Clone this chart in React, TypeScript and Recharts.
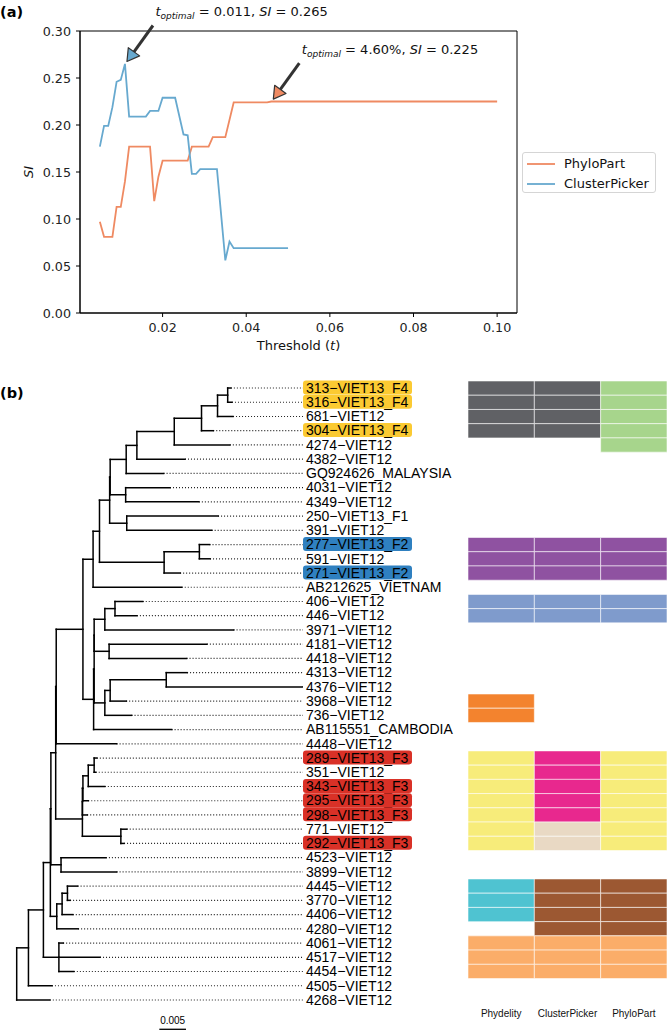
import React from "react"
import {
  ComposedChart,
  LineChart,
  Line,
  Scatter,
  XAxis,
  YAxis,
  Legend,
  ReferenceArea,
  ReferenceDot,
  ReferenceLine,
} from "recharts"

const FONT_A = "'DejaVu Sans', sans-serif"
const FONT_B = "'Liberation Sans', Arial, sans-serif"
const ORANGE = "#ef8a62"
const BLUE = "#67a9cf"

// (a) silhouette index against threshold (polyline vertices)
const phyloT = [0.005, 0.006, 0.008, 0.009, 0.01, 0.011, 0.012, 0.017, 0.018, 0.019, 0.02, 0.026, 0.027, 0.031, 0.032, 0.035, 0.037, 0.045, 0.046, 0.1]
const phyloSI = [0.097, 0.081, 0.081, 0.113, 0.113, 0.14, 0.177, 0.177, 0.119, 0.145, 0.162, 0.162, 0.177, 0.177, 0.187, 0.187, 0.224, 0.224, 0.225, 0.225]
const clusterT = [0.005, 0.006, 0.007, 0.008, 0.009, 0.01, 0.011, 0.012, 0.016, 0.017, 0.019, 0.02, 0.023, 0.025, 0.026, 0.027, 0.028, 0.029, 0.033, 0.035, 0.036, 0.037, 0.05]
const clusterSI = [0.177, 0.199, 0.199, 0.219, 0.246, 0.248, 0.265, 0.209, 0.209, 0.215, 0.215, 0.229, 0.229, 0.19, 0.189, 0.148, 0.148, 0.153, 0.153, 0.056, 0.076, 0.069, 0.069]
const xTicks = [0.02, 0.04, 0.06, 0.08, 0.1]
const yTicks = [0, 0.05, 0.1, 0.15, 0.2, 0.25, 0.3]
const seriesNames = ["PhyloPart", "ClusterPicker"]
const optimumT = [0.011, 0.046]
const optimumSI = [0.265, 0.225]
const optimumLabel = ["0.011", "4.60%"]
const optimumColor = [BLUE, ORANGE]

// (b) tree tips, top to bottom
const tipLabels = [
  "313−VIET13_F4", "316−VIET13_F4", "681−VIET12", "304−VIET13_F4", "4274−VIET12", "4382−VIET12",
  "GQ924626_MALAYSIA", "4031−VIET12", "4349−VIET12", "250−VIET13_F1", "391−VIET12", "277−VIET13_F2",
  "591−VIET12", "271−VIET13_F2", "AB212625_VIETNAM", "406−VIET12", "446−VIET12", "3971−VIET12",
  "4181−VIET12", "4418−VIET12", "4313−VIET12", "4376−VIET12", "3968−VIET12", "736−VIET12",
  "AB115551_CAMBODIA", "4448−VIET12", "289−VIET13_F3", "351−VIET12", "343−VIET13_F3", "295−VIET13_F3",
  "298−VIET13_F3", "771−VIET12", "292−VIET13_F3", "4523−VIET12", "3899−VIET12", "4445−VIET12",
  "3770−VIET12", "4406−VIET12", "4280−VIET12", "4061−VIET12", "4517−VIET12", "4454−VIET12",
  "4505−VIET12", "4268−VIET12",
]
// distance from root (subst./site) at the end of each tip branch
const tipDepth = [
  0.0401, 0.0403, 0.0405, 0.0368, 0.0399, 0.0315, 0.0275, 0.0287, 0.0341, 0.0377, 0.0365, 0.0361,
  0.0362, 0.0306, 0.0309, 0.0236, 0.0225, 0.0406, 0.0356, 0.0318, 0.0319, 0.0534, 0.0205, 0.0215,
  0.029, 0.0187, 0.015, 0.0148, 0.0165, 0.0134, 0.0132, 0.0206, 0.0201, 0.0167, 0.0187, 0.0114,
  0.01, 0.0105, 0.0115, 0.0087, 0.0156, 0.0107, 0.0066, 0.0062,
]
// internal nodes: [id, depth, children] (numbers are tip rows)
const treeNodes: [string, number, (number | string)[]][] = [
  ["n1", 0.0395, [1, 2]],
  ["n2", 0.0376, ["n1", 3]],
  ["n3", 0.0346, ["n2", 4]],
  ["n4", 0.0295, ["n3", 5]],
  ["n5", 0.0225, ["n4", 6]],
  ["n6", 0.0205, ["n5", 7]],
  ["n7", 0.0204, [8, 9]],
  ["n8", 0.0175, ["n6", "n7"]],
  ["n9", 0.0206, [10, 11]],
  ["n10", 0.0174, ["n8", "n9"]],
  ["n11", 0.0342, [12, 13]],
  ["n12", 0.0276, ["n11", 14]],
  ["n13", 0.0155, ["n10", "n12"]],
  ["n14", 0.0143, ["n13", 15]],
  ["n15", 0.0184, [16, 17]],
  ["n16", 0.0165, ["n15", 18]],
  ["n17", 0.0173, [19, 20]],
  ["n18", 0.0145, ["n16", "n17"]],
  ["n19", 0.028, [21, 22]],
  ["n20", 0.0175, ["n19", 23]],
  ["n21", 0.0165, ["n20", 24]],
  ["n22", 0.0145, ["n18", "n21"]],
  ["n23", 0.0144, ["n22", 25]],
  ["n24", 0.0124, ["n14", "n23"]],
  ["n25", 0.0074, ["n24", 26]],
  ["n26", 0.0145, [27, 28]],
  ["n27", 0.0134, ["n26", 29]],
  ["n28", 0.0124, ["n27", 30]],
  ["n29", 0.0123, ["n28", 31]],
  ["n30", 0.0195, [32, 33]],
  ["n31", 0.0123, ["n29", "n30"]],
  ["n32", 0.0073, ["n25", "n31"]],
  ["n33", 0.0083, [34, 35]],
  ["n34", 0.0095, [36, 37]],
  ["n35", 0.0085, ["n34", 38]],
  ["n36", 0.0075, ["n35", 39]],
  ["n37", 0.0064, ["n32", "n33"]],
  ["n38", 0.0063, ["n37", "n36"]],
  ["n39", 0.0079, [40, 41, 42]],
  ["n40", 0.005, ["n38", "n39"]],
  ["n41", 0.0022, ["n40", 43]],
  ["root", 0, ["n41", 44]],
]
const highlightF4 = [1, 2, 4]
const highlightF2 = [12, 14]
const highlightF3 = [27, 29, 30, 31, 33]
const scaleBarLength = 0.005
const scaleBarStart = 0.0267

// cluster membership per method: [first row, last row, cluster]
const methods = ["Phydelity", "ClusterPicker", "PhyloPart"]
const phydelityClusters: [number, number, string][] = [[1, 4, "grey"], [12, 14, "purple"], [16, 17, "lavender"], [23, 24, "orange"], [27, 33, "yellow"], [36, 38, "cyan"], [40, 42, "peach"]]
const clusterPickerClusters: [number, number, string][] = [[1, 4, "grey"], [12, 14, "purple"], [16, 17, "lavender"], [27, 31, "pink"], [32, 33, "beige"], [36, 39, "brown"], [40, 42, "peach"]]
const phyloPartClusters: [number, number, string][] = [[1, 5, "green"], [12, 14, "purple"], [16, 17, "lavender"], [27, 33, "yellow"], [36, 39, "brown"], [40, 42, "peach"]]

const clusterColors: Record<string, string> = {
  grey: "#606165",
  green: "#a7d58c",
  purple: "#8f52a1",
  lavender: "#7f9bcc",
  orange: "#f3832e",
  yellow: "#f7ec7a",
  pink: "#e8288e",
  beige: "#e9d9c4",
  cyan: "#4fc3d1",
  brown: "#9c5832",
  peach: "#fbad69",
}

const phyloData = phyloT.map((t, i) => ({ t, si: phyloSI[i] }))
const clusterData = clusterT.map((t, i) => ({ t, si: clusterSI[i] }))

const TREE_MAX = 0.0536
const tipRows = tipLabels.map((_, i) => i + 1)
const tipPoints = tipRows.map((r) => ({ x: tipDepth[r - 1], y: r }))

type Key = number | string
const depthOf = new Map<Key, number>()
const rowOf = new Map<Key, number>()
tipDepth.forEach((d, i) => {
  depthOf.set(i + 1, d)
  rowOf.set(i + 1, i + 1)
})
treeNodes.forEach(([id, d, kids]) => {
  depthOf.set(id, d)
  rowOf.set(id, (rowOf.get(kids[0])! + rowOf.get(kids[kids.length - 1])!) / 2)
})
const branches: { x: number; y: number }[][] = []
treeNodes.forEach(([, d, kids]) => {
  branches.push([
    { x: d, y: rowOf.get(kids[0])! },
    { x: d, y: rowOf.get(kids[kids.length - 1])! },
  ])
  kids.forEach((k) => {
    branches.push([
      { x: d, y: rowOf.get(k)! },
      { x: depthOf.get(k)!, y: rowOf.get(k)! },
    ])
  })
})

const cells: { col: number; row: number; color: string }[] = []
;[phydelityClusters, clusterPickerClusters, phyloPartClusters].forEach((runs, col) => {
  runs.forEach(([a, b, c]) => {
    for (let r = a; r <= b; r++) cells.push({ col, row: r, color: clusterColors[c] })
  })
})
const cellPoints = cells.map((c) => ({ x: c.col + 0.5, y: c.row }))

function highlightFill(row: number) {
  if (highlightF4.includes(row)) return "#fbca32"
  if (highlightF2.includes(row)) return "#2f80c0"
  if (highlightF3.includes(row)) return "#d93127"
  return null
}

function Callout(props: any) {
  const { cx, cy, color, label, si } = props
  const tip = { x: cx + 2, y: cy - 2.4 }
  const tail = { x: tip.x + 26, y: tip.y - 36 }
  const len = Math.hypot(tail.x - tip.x, tail.y - tip.y)
  const ux = (tip.x - tail.x) / len
  const uy = (tip.y - tail.y) / len
  const bx = tip.x - ux * 12
  const by = tip.y - uy * 12
  const nx = -uy
  const ny = ux
  const pts = `${tip.x},${tip.y} ${bx + nx * 7},${by + ny * 7} ${bx - nx * 7},${by - ny * 7}`
  return (
    <g>
      <line x1={tail.x} y1={tail.y} x2={bx} y2={by} stroke="#333" strokeWidth={3} />
      <polygon points={pts} fill={color} stroke="#333" strokeWidth={1.2} strokeLinejoin="round" />
      <text x={cx + 30.5} y={cy - 47.5} fontSize={13} fontFamily={FONT_A} fill="#111">
        <tspan fontStyle="italic">t</tspan>
        <tspan fontStyle="italic" fontSize={9} dy={3}>optimal</tspan>
        <tspan dy={-3}>{` = ${label}, `}</tspan>
        <tspan fontStyle="italic">SI</tspan>
        <tspan>{` = ${si.toFixed(3)}`}</tspan>
      </text>
    </g>
  )
}

function LegendBox(props: any) {
  const items = [...(props.payload || [])].sort(
    (a: any, b: any) => seriesNames.indexOf(a.value) - seriesNames.indexOf(b.value),
  )
  return (
    <div
      style={{
        width: 132,
        height: 39,
        border: "1px solid #d5d5d5",
        borderRadius: 3,
        background: "#fff",
        fontFamily: FONT_A,
        fontSize: 13,
        color: "#111",
        boxSizing: "content-box",
      }}
    >
      {items.map((p: any) => (
        <div key={p.value} style={{ display: "flex", alignItems: "center", height: 19, marginTop: 1 }}>
          <svg width={41} height={10}>
            <line x1={4} y1={5} x2={32} y2={5} stroke={p.color} strokeWidth={1.8} />
          </svg>
          <span>{p.value}</span>
        </div>
      ))}
    </div>
  )
}

function ThresholdChart() {
  const tickStyle = { fill: "#222", fontSize: 12.7, fontFamily: FONT_A }
  return (
    <LineChart width={667} height={360} margin={{ top: 31, right: 150, bottom: 17, left: 0 }}>
      <XAxis
        type="number"
        dataKey="t"
        domain={[0.00025, 0.10475]}
        allowDataOverflow
        ticks={xTicks}
        interval={0}
        tickFormatter={(v: number) => v.toFixed(2)}
        stroke="#000"
        tick={tickStyle}
        tickSize={4}
        tickMargin={6}
        height={30}
        label={(p: any) => (
          <text x={p.viewBox.x + p.viewBox.width / 2} y={p.viewBox.y + 36.7} textAnchor="middle" fontSize={13} fontFamily={FONT_A} fill="#111">
            Threshold (<tspan fontStyle="italic">t</tspan>)
          </text>
        )}
      />
      <YAxis
        type="number"
        domain={[0, 0.3]}
        allowDataOverflow
        ticks={yTicks}
        interval={0}
        tickFormatter={(v: number) => v.toFixed(2)}
        stroke="#000"
        tick={tickStyle}
        tickSize={4}
        tickMargin={5}
        width={80}
        label={(p: any) => (
          <text
            x={33}
            y={p.viewBox.y + p.viewBox.height / 2}
            transform={`rotate(-90 33 ${p.viewBox.y + p.viewBox.height / 2})`}
            textAnchor="middle"
            fontSize={13}
            fontStyle="italic"
            fontFamily={FONT_A}
            fill="#111"
          >
            SI
          </text>
        )}
      />
      <ReferenceArea x1={0.00025} x2={0.10475} y1={0} y2={0.3} fill="none" stroke="#000" strokeWidth={1} ifOverflow="visible" />
      <Line data={phyloData} dataKey="si" name={seriesNames[0]} stroke={ORANGE} strokeWidth={1.8} dot={false} isAnimationActive={false} />
      <Line data={clusterData} dataKey="si" name={seriesNames[1]} stroke={BLUE} strokeWidth={1.8} dot={false} isAnimationActive={false} />
      {optimumT.map((t, i) => (
        <ReferenceDot
          key={t}
          x={t}
          y={optimumSI[i]}
          ifOverflow="visible"
          shape={(p: any) => <Callout {...p} color={optimumColor[i]} label={optimumLabel[i]} si={optimumSI[i]} />}
        />
      ))}
      <Legend
        layout="vertical"
        align="center"
        verticalAlign="middle"
        wrapperStyle={{ left: 522, top: 152, width: 134 }}
        content={LegendBox}
      />
    </LineChart>
  )
}

function TipTick(props: any) {
  const { x, y, payload } = props
  const row = payload.value as number
  const fill = highlightFill(row)
  return (
    <g>
      {fill && <rect x={x - 3} y={y - 7.6} width={109} height={14} rx={3} fill={fill} />}
      <text x={x} y={y} dy="0.34em" fontSize={14} fontFamily={FONT_B} fill="#000">
        {tipLabels[row - 1]}
      </text>
    </g>
  )
}

function TreeChart() {
  return (
    <ComposedChart width={460} height={1031} margin={{ top: 380.9, right: 0, bottom: 0, left: 16.7 }}>
      <XAxis type="number" dataKey="x" domain={[0, TREE_MAX]} allowDataOverflow hide />
      <YAxis
        type="number"
        dataKey="y"
        orientation="right"
        domain={[0.5, 46.18]}
        allowDataOverflow
        reversed
        ticks={tipRows}
        interval={0}
        width={157}
        axisLine={false}
        tickLine={false}
        tickSize={0}
        tickMargin={3}
        tick={<TipTick />}
      />
      <Scatter data={tipPoints} shape={() => <g />} isAnimationActive={false} />
      {tipRows.map((r) => (
        <ReferenceLine
          key={`d${r}`}
          segment={[{ x: tipDepth[r - 1], y: r }, { x: TREE_MAX, y: r }]}
          stroke="#222"
          strokeWidth={1.2}
          strokeDasharray="1 2"
          ifOverflow="visible"
        />
      ))}
      {branches.map((s, i) => (
        <ReferenceLine key={`b${i}`} segment={s} stroke="#000" strokeWidth={1.5} strokeLinecap="square" ifOverflow="visible" />
      ))}
      <ReferenceLine
        segment={[{ x: scaleBarStart, y: 46.06 }, { x: scaleBarStart + scaleBarLength, y: 46.06 }]}
        stroke="#000"
        strokeWidth={1.3}
        ifOverflow="visible"
        label={{ value: "0.005", position: "top", offset: 5, fontSize: 10, fill: "#000", fontFamily: FONT_B }}
      />
    </ComposedChart>
  )
}

function HeatmapChart() {
  return (
    <ComposedChart width={199} height={650} margin={{ top: 0, right: 0, bottom: 0, left: 0 }}>
      <XAxis
        type="number"
        dataKey="x"
        domain={[0, 3]}
        allowDataOverflow
        ticks={[0.5, 1.5, 2.5]}
        interval={0}
        tickFormatter={(v: number) => methods[Math.floor(v)]}
        axisLine={false}
        tickLine={false}
        tickSize={0}
        tickMargin={3}
        height={24}
        tick={{ fontSize: 10, fill: "#111", fontFamily: FONT_B }}
      />
      <YAxis type="number" dataKey="y" domain={[0.5, 44.5]} allowDataOverflow reversed hide />
      <Scatter data={cellPoints} shape={() => <g />} isAnimationActive={false} />
      {cells.map((c, i) => (
        <ReferenceArea
          key={i}
          x1={c.col}
          x2={c.col + 1}
          y1={c.row - 0.5}
          y2={c.row + 0.5}
          fill={c.color}
          fillOpacity={1}
          stroke="#ffffff"
          strokeOpacity={0.7}
          strokeWidth={0.8}
          ifOverflow="visible"
        />
      ))}
    </ComposedChart>
  )
}

export default function App() {
  return (
    <div style={{ position: "absolute", left: 0, top: 0, width: 667, height: 1031, background: "#fff", overflow: "hidden" }}>
      <div style={{ position: "absolute", left: 0, top: 0 }}>
        <ThresholdChart />
      </div>
      <div style={{ position: "absolute", left: 0, top: 0 }}>
        <TreeChart />
      </div>
      <div style={{ position: "absolute", left: 468, top: 380.9 }}>
        <HeatmapChart />
      </div>
      <svg width={667} height={1031} style={{ position: "absolute", left: 0, top: 0, pointerEvents: "none" }}>
        <text x={0} y={17} fontSize={14.5} fontWeight="bold" fontFamily={FONT_A} fill="#000">(a)</text>
        <text x={0} y={398} fontSize={14.5} fontWeight="bold" fontFamily={FONT_A} fill="#000">(b)</text>
      </svg>
    </div>
  )
}
